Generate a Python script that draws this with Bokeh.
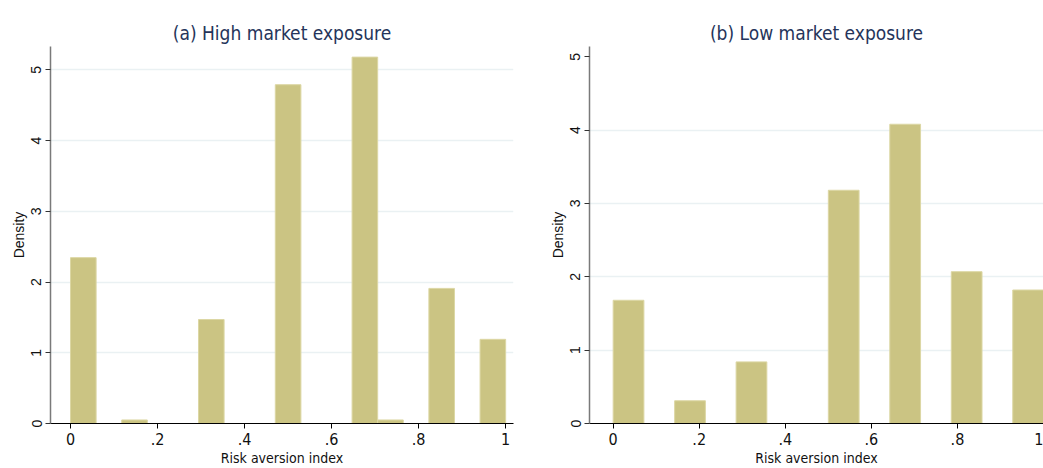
from bokeh.plotting import figure
from bokeh.layouts import row
from bokeh.models import FixedTicker, CustomJSTickFormatter
from bokeh.embed import file_html
from bokeh.resources import INLINE

# Histogram of the risk aversion index (density scale), by market exposure
high_bins = 17
high_bin_index = [0, 2, 5, 8, 11, 12, 14, 16]
high_density = [2.345, 0.05, 1.47, 4.79, 5.18, 0.05, 1.91, 1.19]

low_bins = 14
low_bin_index = [0, 2, 4, 7, 9, 11, 13]
low_density = [1.68, 0.31, 0.84, 3.18, 4.08, 2.07, 1.82]

x_ticks = [0, 0.2, 0.4, 0.6, 0.8, 1.0]
y_ticks = [0, 1, 2, 3, 4, 5]

BAR_FILL = "#cbc483"
BAR_LINE = "#dcd7a4"
TITLE_COLOR = "#25345a"
FONT = "DejaVu Sans Condensed"
Y_FONT = "Liberation Sans"

tick_fmt = CustomJSTickFormatter(code="""
    if (tick == 0) return "0";
    if (tick == 1) return "1";
    return tick.toFixed(1).replace(/^0/, "");
""")


def panel(title, nbins, idx, dens, x_range, y_top, grid_ticks, width, left, right):
    p = figure(width=width, height=468, x_range=x_range, y_range=(0, y_top),
               output_backend="svg", toolbar_location=None,
               min_border_left=left, min_border_right=right,
               min_border_top=46, min_border_bottom=45)
    w = 1.0 / nbins
    lefts = [i * w for i in idx]
    rights = [(i + 1) * w for i in idx]
    p.quad(left=lefts, right=rights, bottom=0, top=dens,
           fill_color=BAR_FILL, line_color=BAR_LINE, line_width=1)

    p.title.text = title
    p.title.align = "center"
    p.title.text_font = FONT
    p.title.text_font_size = "19px"
    p.title.text_font_style = "normal"
    p.title.text_color = TITLE_COLOR
    p.title.standoff = 6

    p.outline_line_color = None
    p.background_fill_color = "white"
    p.border_fill_color = "white"

    p.xgrid.grid_line_color = None
    p.ygrid.ticker = FixedTicker(ticks=grid_ticks)
    p.ygrid.grid_line_color = "#eaf1f3"
    p.ygrid.grid_line_width = 1.5

    p.xaxis.ticker = FixedTicker(ticks=x_ticks)
    p.xaxis.formatter = tick_fmt
    p.xaxis.axis_label = "Risk aversion index"
    p.xaxis.axis_line_color = "#000000"
    p.xaxis.major_tick_line_color = "#000000"
    p.xaxis.major_label_text_font = FONT
    p.xaxis.major_label_text_font_size = "16px"

    p.yaxis.ticker = FixedTicker(ticks=y_ticks)
    p.yaxis.axis_label = "Density"
    p.yaxis.major_label_orientation = "vertical"
    p.yaxis.axis_line_color = "#7a7a7a"
    p.yaxis.axis_line_width = 1.5
    p.yaxis.major_tick_line_color = "#333333"
    p.yaxis.major_label_text_font = Y_FONT
    p.yaxis.major_label_text_font_size = "14px"

    for ax in (p.xaxis, p.yaxis):
        ax.minor_tick_line_color = None
        ax.major_tick_in = 0
        ax.major_tick_out = 5
        ax.major_label_text_color = "#111111"
        ax.axis_label_text_font_size = "14px"
        ax.axis_label_text_font_style = "normal"
        ax.axis_label_text_color = "#111111"
        ax.major_label_standoff = 4
        ax.axis_label_standoff = 2
    p.xaxis.axis_label_text_font = FONT
    p.yaxis.axis_label_text_font = Y_FONT
    return p


left_panel = panel("(a) High market exposure", high_bins, high_bin_index, high_density,
                   (-0.046, 1.018), 5.33, [1, 2, 3, 4, 5], 520, 50, 7)

right_panel = panel("(b) Low market exposure", low_bins, low_bin_index, low_density,
                    (-0.055, 1.0), 5.14, [1, 2, 3, 4], 523, 69, 0)

layout = row(left_panel, right_panel)
open("out.html", "w").write(file_html(layout, INLINE))
